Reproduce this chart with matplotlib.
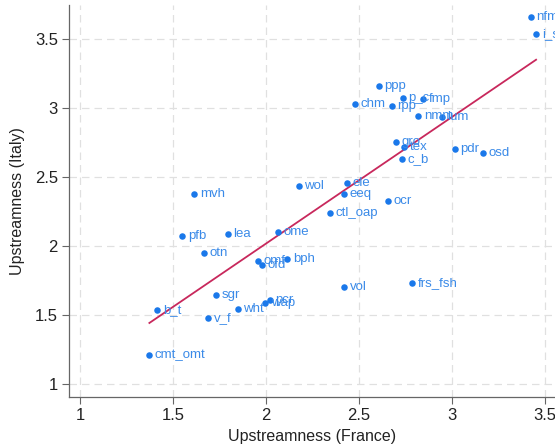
import numpy as np
import matplotlib.pyplot as plt

plt.rcParams['font.family'] = ['Liberation Sans', 'DejaVu Sans']

##########################  DATA  ##############################################

sectors = ['nfm', 'i_s', 'ppp', 'chm', 'p_c', 'rpp', 'fmp', 'nmm', 'lum',
           'gro', 'tex', 'c_b', 'pdr', 'osd', 'wol', 'ele', 'eeq', 'ocr',
           'mvh', 'ctl_oap', 'pfb', 'lea', 'ome', 'otn', 'omf', 'ofd',
           'bph', 'vol', 'sgr', 'pcr', 'wap', 'wht', 'b_t', 'v_f',
           'cmt_omt', 'frs_fsh']
france = [3.425, 3.452, 2.608, 2.478, 2.737, 2.677, 2.844, 2.819, 2.945,
          2.700, 2.742, 2.729, 3.016, 3.167, 2.177, 2.437, 2.421, 2.658,
          1.615, 2.342, 1.550, 1.794, 2.066, 1.667, 1.957, 1.978,
          2.115, 2.419, 1.733, 2.022, 1.996, 1.848, 1.416, 1.690,
          1.373, 2.787]
italy = [3.657, 3.536, 3.159, 3.027, 3.075, 3.014, 3.063, 2.942, 2.932,
         2.756, 2.720, 2.628, 2.703, 2.672, 2.437, 2.457, 2.377, 2.326,
         2.377, 2.237, 2.070, 2.085, 2.104, 1.949, 1.891, 1.865,
         1.906, 1.703, 1.645, 1.606, 1.589, 1.546, 1.538, 1.476,
         1.210, 1.730]

xTicks = [1, 1.5, 2, 2.5, 3, 3.5]
yTicks = [1, 1.5, 2, 2.5, 3, 3.5]
tickLabels = ['1', '1.5', '2', '2.5', '3', '3.5']

DOT = '#1a78ea'
TXT = '#3a8ae8'
LINE = '#c8285c'
AXC = '#666666'

##########################  FIGURE  ############################################

fig = plt.figure(figsize=(5.55, 4.46), dpi=100)
ax = fig.add_axes([69/555, 1 - 397/446, 1 - 69/555, (397 - 5)/446])

for t in xTicks:
    ax.axvline(t, color='#e0e0e0', linestyle=(0, (6, 4)), linewidth=0.9, zorder=0)
for t in yTicks:
    ax.axhline(t, color='#e0e0e0', linestyle=(0, (6, 4)), linewidth=0.9, zorder=0)

ax.scatter(france, italy, s=22, color=DOT, zorder=3, linewidths=0)
for name, x, y in zip(sectors, france, italy):
    ax.annotate(name, (x, y), xytext=(4, 0), textcoords='offset points',
                va='center', ha='left', fontsize=9.5, color=TXT, zorder=4)

# linear fit
slope, intercept = np.polyfit(france, italy, 1)
xs = np.array([min(france), max(france)])
ax.plot(xs, intercept + slope * xs, color=LINE, linewidth=1.3, zorder=2)

ax.set_xlim(1 - 11/186, 1 + (555 - 80)/186)
ax.set_ylim(1 - 13/138, 1 + 379/138)
ax.set_xticks(xTicks)
ax.set_xticklabels(tickLabels)
ax.set_yticks(yTicks)
ax.set_yticklabels(tickLabels)
ax.tick_params(direction='out', length=5, width=0.8, color=AXC,
               labelsize=12, labelcolor='#222222', pad=3)

for side in ['top', 'right']:
    ax.spines[side].set_visible(False)
for side in ['left', 'bottom']:
    ax.spines[side].set_color(AXC)
    ax.spines[side].set_linewidth(0.9)

ax.set_xlabel('Upstreamness (France)', fontsize=11.5, color='#222222', labelpad=4)
ax.set_ylabel('Upstreamness (Italy)', fontsize=11.5, color='#222222', labelpad=7)

fig.savefig('out.png', dpi=100)
